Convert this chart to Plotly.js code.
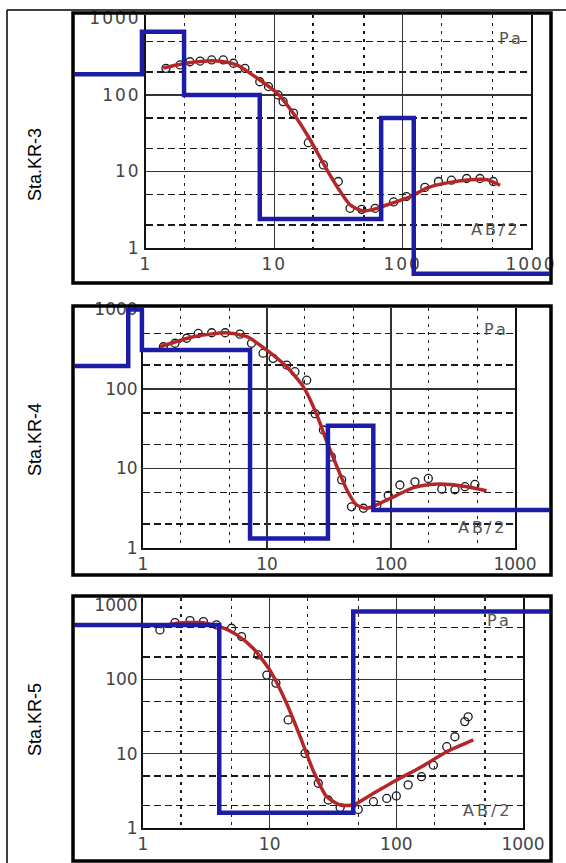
<!DOCTYPE html>
<html><head><meta charset="utf-8">
<script src="https://cdn.plot.ly/plotly-3.0.1.min.js"></script>
<style>
html,body{margin:0;padding:0;background:#fff;}
#chart{width:566px;height:863px;}
.xtick text,.ytick text{letter-spacing:2px;}
</style></head><body><div id="chart"></div>
<script>
// ---------- data ----------
const stations = ["Sta.KR-3", "Sta.KR-4", "Sta.KR-5"];
const tickValues = [1, 10, 100, 1000];
const tickLabels = ["1", "10", "100", "1000"];
const minorValues = [2, 5, 20, 50, 200, 500];
const solidGridValues = [10, 100];
const yAxisName = "Pa";
const xAxisName = "AB/2";

// Sta.KR-3
const kr3ObsAB  = [1.43,1.84,2.2,2.64,3.25,4.0,4.8,5.9,7.7,9.0,10.7,11.7,14.1,18.4,24.1,31.5,38.9,48,61,85,107,149,190,240,315,400,508];
const kr3ObsRho = [223,247,272,278,287,287,260,223,149,129,100,82,58,23.8,12.2,7.4,3.3,3.2,3.3,4.0,4.7,6.2,7.4,7.7,8.1,8.1,7.4];
const kr3FitAB  = [1.36,1.7,2.1,2.63,3.8,5.1,7.7,10.5,14,19,25.7,30.9,39,49,63,84,114,155,221,333,456,575];
const kr3FitRho = [225,245,262,275,277,247,157,106,58,26,10.5,6.3,3.65,3.05,3.3,3.9,4.65,6.1,7.1,7.8,7.8,6.6];
const kr3ModelAB  = [0.1,0.93,1.98,7.7,68,122,5000];
const kr3ModelRho = [187,670,100,2.4,50,0.46,0.46];

// Sta.KR-4
const kr4ObsAB  = [1.46,1.81,2.25,2.79,3.58,4.6,6.05,7.5,9.3,11.2,14.4,16.8,20.9,24.4,28.5,33,40,48,60,77,95,118,156,200,257,328,395,475];
const kr4ObsRho = [340,376,435,500,510,510,490,376,282,243,200,165,129,49,30.5,14,7.2,3.3,3.16,3.47,4.6,6.2,6.8,7.5,5.5,5.4,5.9,6.3];
const kr4FitAB  = [1.37,2.55,4.7,6.9,9.9,14.4,19.6,25,30,36.6,44,52.6,63.5,81.5,111,152,206,300,408,590];
const kr4FitRho = [340,455,510,455,310,190,107,49,22.8,10.6,5.4,3.5,3.15,3.65,4.6,5.74,6.3,6.3,5.9,5.26];
const kr4ModelAB  = [0.1,0.76,0.98,7.3,31,72,5000];
const kr4ModelRho = [195,1000,310,1.32,34.6,3.0,3.0];

// Sta.KR-5
const kr5ObsAB  = [1.36,1.79,2.35,3.0,3.8,5.0,6.0,8.1,9.5,11.2,14,19,24.2,29,36,50,66,84,100,124,158,196,250,290,347,369];
const kr5ObsRho = [462,580,617,598,540,487,376,213,114,89,28.4,10.1,4.0,2.38,1.88,1.78,2.26,2.5,2.7,3.8,4.9,7.0,12.4,16.9,27,31.3];
const kr5FitAB  = [1.36,1.85,2.82,4.05,5.5,7.4,10,13.6,17.4,22,28.2,36,45.7,66,100,153,250,405];
const kr5FitRho = [510,569,580,512,396,262,134,47.6,16.9,6.0,2.64,2.04,2.04,2.93,4.4,6.45,10.6,15.3];
const kr5ModelAB  = [0.1,4.0,45.7,5000];
const kr5ModelRho = [540,1.6,815,815];

// ---------- layout geometry (pixels) ----------
const W = 566, H = 863;
const panels = [
  {obs:[kr3ObsAB,kr3ObsRho], fit:[kr3FitAB,kr3FitRho], model:[kr3ModelAB,kr3ModelRho],
   x0:146, x1:531, yTop:18.5, yBot:248, frame:[73,13,551,283], labelY:165,
   pa:[511,39], ab:[496,229]},
  {obs:[kr4ObsAB,kr4ObsRho], fit:[kr4FitAB,kr4FitRho], model:[kr4ModelAB,kr4ModelRho],
   x0:143, x1:515, yTop:309.5, yBot:548, frame:[73,306,551,575], labelY:440,
   pa:[496,330], ab:[483,527]},
  {obs:[kr5ObsAB,kr5ObsRho], fit:[kr5FitAB,kr5FitRho], model:[kr5ModelAB,kr5ModelRho],
   x0:143, x1:523, yTop:605, yBot:828, frame:[73,596,551,861], labelY:720,
   pa:[500,620], ab:[488,810]}
];
const fx = px => px / W;
const fy = py => 1 - py / H;
const tickFont = {family:'DejaVu Sans', size:17, color:'#444'};

const traces = [];
const layout = {
  width: W, height: H, margin:{l:0,r:0,t:0,b:0},
  paper_bgcolor:'#fff', plot_bgcolor:'rgba(0,0,0,0)',
  showlegend:false, shapes:[], annotations:[]
};

panels.forEach((p, i) => {
  const a = 3*i + 1, d = 3*i + 2, b = 3*i + 3;
  const id = n => (n === 1 ? '' : String(n));
  const ppdx = (p.x1 - p.x0) / 3;
  const ppdy = (p.yBot - p.yTop) / 3;
  const inset = 1.5;
  const fL = p.frame[0] + inset, fT = p.frame[1] + inset, fR = p.frame[2] - inset, fB = p.frame[3] - inset;
  const yRangeTop = (p.yBot - fT) / ppdy;
  const mainXDom = [fx(p.x0), fx(p.x1)];
  const mainYDom = [fy(p.yBot), fy(fT)];

  // A: labels, dashed grid, solid x grid, observed circles
  layout['xaxis' + id(a)] = {
    type:'log', domain:mainXDom, range:[0,3], anchor:'y' + id(a),
    tickmode:'array', tickvals:tickValues, ticktext:tickLabels,
    showgrid:true, gridcolor:'#333', gridwidth:1.5,
    showline:true, linecolor:'#111', linewidth:2, ticks:'',
    tickfont:tickFont, zeroline:false, fixedrange:true,
    minor:{tickmode:'array', tickvals:minorValues, showgrid:true,
           gridcolor:'#1a1a1a', gridwidth:1.3, griddash:'3px,5px', ticks:''}
  };
  layout['yaxis' + id(a)] = {
    type:'log', domain:mainYDom, range:[0, yRangeTop], anchor:'x' + id(a),
    tickmode:'array', tickvals:tickValues, ticktext:tickLabels,
    showgrid:false, showline:true, mirror:true, linecolor:'#111', linewidth:2,
    ticks:'', tickfont:tickFont, zeroline:false, fixedrange:true,
    minor:{tickmode:'array', tickvals:minorValues, showgrid:true,
           gridcolor:'#1a1a1a', gridwidth:1.2, griddash:'7px,4px', ticks:''}
  };
  traces.push({
    type:'scatter', mode:'markers', x:p.obs[0], y:p.obs[1],
    xaxis:'x' + id(a), yaxis:'y' + id(a),
    marker:{symbol:'circle-open', size:8, color:'#1a1a1a', line:{width:1.3}},
    hoverinfo:'skip'
  });

  // D: solid decade grid on y + fitted curve
  layout['xaxis' + id(d)] = {
    type:'log', domain:mainXDom, range:[0,3], anchor:'y' + id(d),
    visible:false, fixedrange:true
  };
  layout['yaxis' + id(d)] = {
    type:'log', domain:mainYDom, range:[0, yRangeTop], anchor:'x' + id(d),
    tickmode:'array', tickvals:solidGridValues, showticklabels:false,
    showgrid:true, gridcolor:'#333', gridwidth:1.5, showline:false,
    ticks:'', zeroline:false, fixedrange:true
  };
  traces.push({
    type:'scatter', mode:'lines', x:p.fit[0], y:p.fit[1],
    xaxis:'x' + id(d), yaxis:'y' + id(d),
    line:{color:'#b52628', width:3.5, shape:'spline', smoothing:0.6},
    hoverinfo:'skip'
  });

  // B: layered model (extends to the frame)
  layout['xaxis' + id(b)] = {
    type:'log', domain:[fx(fL), fx(fR)],
    range:[(fL - p.x0) / ppdx, (fR - p.x0) / ppdx], anchor:'y' + id(b),
    visible:false, fixedrange:true
  };
  layout['yaxis' + id(b)] = {
    type:'log', domain:[fy(fB), fy(fT)],
    range:[(p.yBot - fB) / ppdy, (p.yBot - fT) / ppdy], anchor:'x' + id(b),
    visible:false, fixedrange:true
  };
  traces.push({
    type:'scatter', mode:'lines', x:p.model[0], y:p.model[1],
    xaxis:'x' + id(b), yaxis:'y' + id(b),
    line:{color:'#1c1ca6', width:4.5, shape:'hv'},
    hoverinfo:'skip'
  });

  // frame
  layout.shapes.push({
    type:'rect', xref:'paper', yref:'paper', layer:'above',
    x0:fx(p.frame[0]), x1:fx(p.frame[2]), y0:fy(p.frame[3]), y1:fy(p.frame[1]),
    line:{color:'#000', width:3.5}, fillcolor:'rgba(0,0,0,0)'
  });

  // texts
  layout.annotations.push({
    xref:'paper', yref:'paper', x:fx(35), y:fy(p.labelY),
    text:stations[i], textangle:-90, showarrow:false,
    xanchor:'center', yanchor:'middle',
    font:{family:'Liberation Sans, Arial, sans-serif', size:18, color:'#000'}
  });
  layout.annotations.push({
    xref:'paper', yref:'paper', x:fx(p.pa[0]), y:fy(p.pa[1]),
    text:'<span style="letter-spacing:3px">' + yAxisName + '</span>', showarrow:false,
    xanchor:'center', yanchor:'middle',
    font:{family:'DejaVu Sans', size:16, color:'#555'}
  });
  layout.annotations.push({
    xref:'paper', yref:'paper', x:fx(p.ab[0]), y:fy(p.ab[1]),
    text:'<span style="letter-spacing:3px">' + xAxisName + '</span>', showarrow:false,
    xanchor:'center', yanchor:'middle',
    font:{family:'DejaVu Sans', size:16, color:'#555'}
  });
});

// outer table lines
layout.shapes.push({type:'line', xref:'paper', yref:'paper', x0:fx(7), x1:fx(7), y0:0, y1:fy(10), line:{color:'#000', width:1.5}});
layout.shapes.push({type:'line', xref:'paper', yref:'paper', x0:fx(7), x1:1, y0:fy(10), y1:fy(10), line:{color:'#000', width:1.5}});

Plotly.newPlot('chart', traces, layout, {staticPlot:true, displayModeBar:false});
</script></body></html>
